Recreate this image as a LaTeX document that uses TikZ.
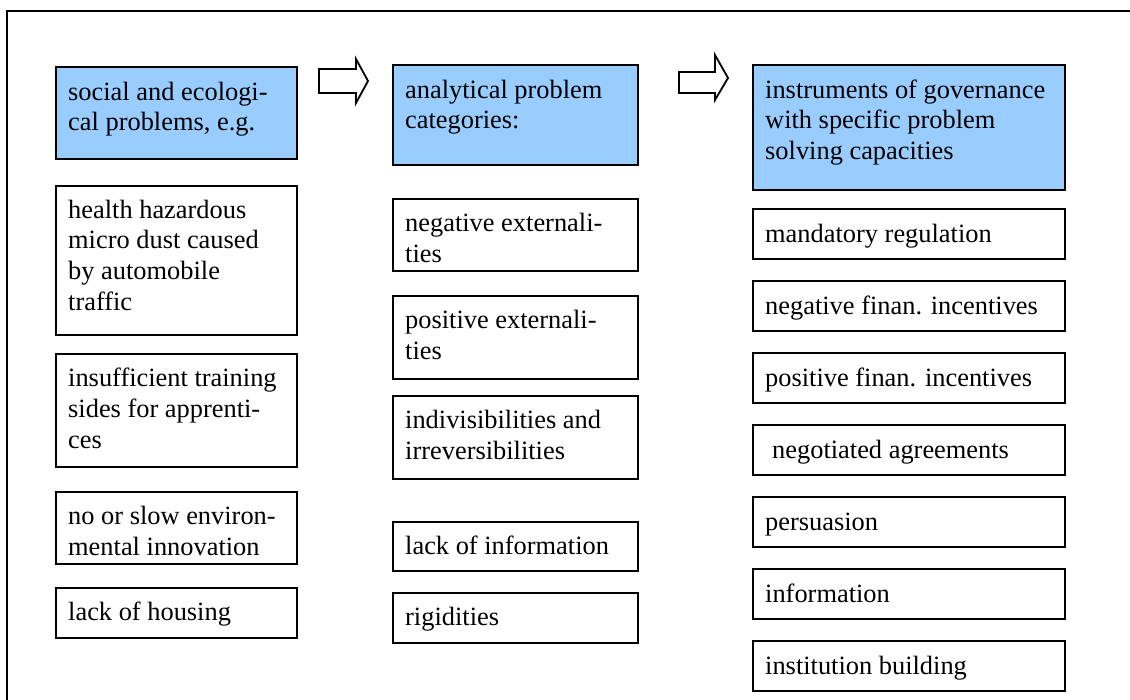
\documentclass[tikz,border=0pt]{standalone}
\usepackage{fontspec}
\setmainfont{Liberation Serif}
\usetikzlibrary{calc}
\definecolor{boxblue}{HTML}{99CCFF}
\begin{document}
\begin{tikzpicture}[x=1pt,y=-1pt,
  box/.style={draw=black, line width=2.1pt, inner sep=0pt, anchor=north west, minimum height=#1},
  hbox/.style={box=#1, fill=boxblue},
  txt/.style={anchor=north west, inner sep=0pt, align=left, font=\fontsize{26.4}{30.8}\selectfont},
  blockarrow/.style={draw=black, line width=1.8pt, fill=white, line join=miter},
  frame/.style={draw=black, line width=2.1pt}
]
\useasboundingbox (0,0) rectangle (1130,700);
\draw[frame] (7.3,700) -- (7.3,10.7) -- (1130,10.7);

% column 1
\begin{scope}[every node/.append style={minimum width=241pt}]
\node[hbox=92pt] (a0) at (55,66) {};
\node[box=149pt] (a1) at (55,185) {};
\node[box=113pt] (a2) at (55,353) {};
\node[box=72pt] (a3) at (55,491) {};
\node[box=50pt] (a4) at (55,587) {};
\end{scope}
% column 2
\begin{scope}[every node/.append style={minimum width=245pt}]
\node[hbox=100pt] (b0) at (392,64) {};
\node[box=72pt] (b1) at (392,198) {};
\node[box=83pt] (b2) at (392,295) {};
\node[box=83pt] (b3) at (392,395) {};
\node[box=49pt] (b4) at (392,521) {};
\node[box=50pt] (b5) at (392,592) {};
\end{scope}
% column 3
\begin{scope}[every node/.append style={minimum width=312pt}]
\node[hbox=125pt] (c0) at (752,64) {};
\node[box=50pt] (c1) at (752,208) {};
\node[box=50pt] (c2) at (752,280) {};
\node[box=50pt] (c3) at (752,352) {};
\node[box=50pt] (c4) at (752,424) {};
\node[box=50pt] (c5) at (752,496) {};
\node[box=50pt] (c6) at (752,568) {};
\node[box=50pt] (c7) at (752,640) {};
\end{scope}

% texts
\node[txt] (ta0) at ($(a0.north west)+(13,12.4)$) {\strut social and ecologi-\\cal problems, e.g.};
\node[txt] (ta1) at ($(a1.north west)+(13,11.4)$) {\strut health hazardous\\micro dust caused\\by automobile\\traffic};
\node[txt] (ta2) at ($(a2.north west)+(13,12)$) {\strut insufficient training\\sides for apprenti-\\ces};
\node[txt] (ta3) at ($(a3.north west)+(13,12)$) {\strut no or slow environ-\\mental innovation};
\node[txt] (ta4) at ($(a4.north west)+(13,11.4)$) {\strut lack of housing};

\node[txt] (tb0) at ($(b0.north west)+(13,12.4)$) {\strut analytical problem\\categories:};
\node[txt] (tb1) at ($(b1.north west)+(13,12)$) {\strut negative externali-\\ties};
\node[txt] (tb2) at ($(b2.north west)+(13,12)$) {\strut positive externali-\\ties};
\node[txt] (tb3) at ($(b3.north west)+(13,12)$) {\strut indivisibilities and\\irreversibilities};
\node[txt] (tb4) at ($(b4.north west)+(13,12)$) {\strut lack of information};
\node[txt] (tb5) at ($(b5.north west)+(13,12)$) {\strut rigidities};

\node[txt] (tc0) at ($(c0.north west)+(13,12.4)$) {\strut instruments of governance\\with specific problem\\solving capacities};
\node[txt] (tc1) at ($(c1.north west)+(13,12.4)$) {\strut mandatory regulation};
\node[txt] (tc2) at ($(c2.north west)+(13,12.4)$) {\strut negative finan. incentives};
\node[txt] (tc3) at ($(c3.north west)+(13,12.4)$) {\strut positive finan. incentives};
\node[txt] (tc4) at ($(c4.north west)+(20,12.4)$) {\strut negotiated agreements};
\node[txt] (tc5) at ($(c5.north west)+(13,12.4)$) {\strut persuasion};
\node[txt] (tc6) at ($(c6.north west)+(13,12.4)$) {\strut information};
\node[txt] (tc7) at ($(c7.north west)+(13,12.4)$) {\strut institution building};

% block arrows
\draw[blockarrow] (319,69) -- (356,69) -- (356,59) -- (368,81) -- (356,103) -- (356,93) -- (319,93) -- cycle;
\draw[blockarrow] (679,72) -- (715,72) -- (715,55) -- (728,78) -- (715,100) -- (715,93) -- (679,93) -- cycle;
\end{tikzpicture}
\end{document}
